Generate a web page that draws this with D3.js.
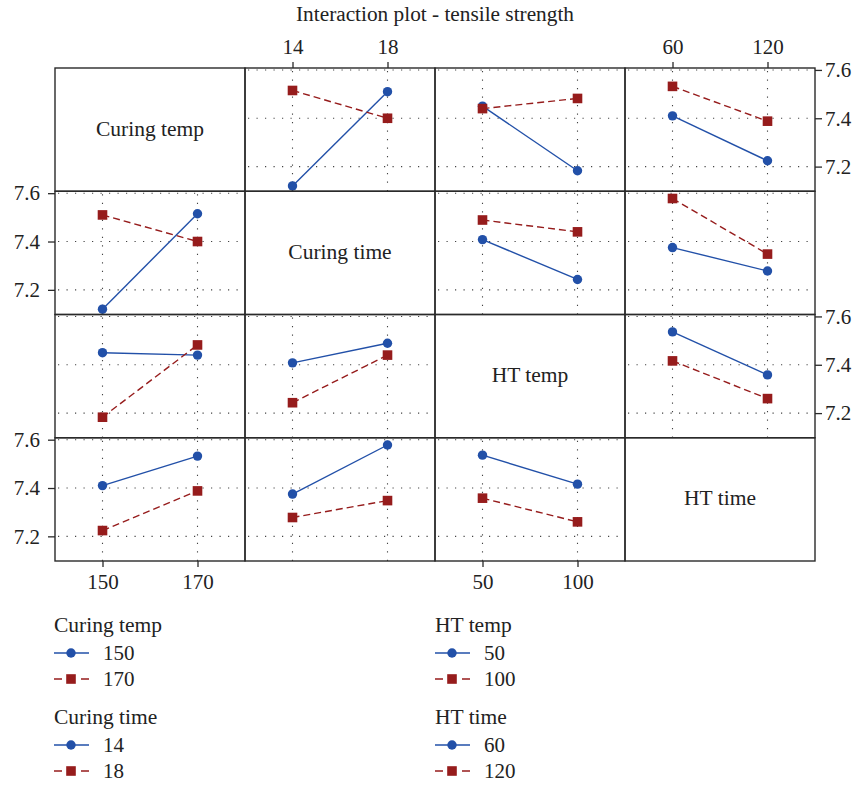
<!DOCTYPE html>
<html>
<head>
<meta charset="utf-8">
<script src="https://cdn.jsdelivr.net/npm/d3@7"></script>
<style>
  body { margin: 0; background: #fff; }
  svg text { font-family: "Liberation Serif", "DejaVu Serif", serif; fill: #222; }
</style>
</head>
<body>
<script>
// factors and their two levels
var factorNames = ["Curing temp", "Curing time", "HT temp", "HT time"];
var factorLevels = [[150, 170], [14, 18], [50, 100], [60, 120]];
var yTicks = [7.2, 7.4, 7.6];

// cell means, [level of first factor][level of second factor]
var meansTempTime = [[7.12, 7.51], [7.515, 7.40]];
var meansTempHtTemp = [[7.45, 7.183], [7.44, 7.482]];
var meansTempHtTime = [[7.41, 7.224], [7.532, 7.388]];
var meansTimeHtTemp = [[7.408, 7.243], [7.489, 7.44]];
var meansTimeHtTime = [[7.375, 7.278], [7.578, 7.348]];
var meansHtTempHtTime = [[7.536, 7.358], [7.416, 7.26]];

var pairTables = {
    "0-1": meansTempTime,
    "0-2": meansTempHtTemp,
    "0-3": meansTempHtTime,
    "1-2": meansTimeHtTemp,
    "1-3": meansTimeHtTime,
    "2-3": meansHtTempHtTime
};

var cellMean = function (r, i, c, j) {
    // trace factor r at level i, x factor c at level j
    if (r < c) return pairTables[r + "-" + c][i][j];
    return pairTables[c + "-" + r][j][i];
};

var blue = "#2250a8";
var red = "#961c1c";
var gridLeft = 55, gridTop = 68, cellW = 190, cellH = 123.25;
var serif = "'Liberation Serif', 'DejaVu Serif', serif";

var svg = d3.select("body").append("svg")
    .attr("width", 863)
    .attr("height", 786);

svg.append("rect").attr("width", 863).attr("height", 786).attr("fill", "#fff");

svg.append("text")
    .attr("x", gridLeft + 2 * cellW)
    .attr("y", 21)
    .attr("text-anchor", "middle")
    .style("font-size", "21.3px")
    .text("Interaction plot - tensile strength");

var y = d3.scaleLinear().domain([7.098, 7.608]).range([cellH, 0]);

factorNames.forEach(function (rowName, r) {
    factorNames.forEach(function (colName, c) {
        var g = svg.append("g")
            .attr("transform", "translate(" + (gridLeft + c * cellW) + "," + (gridTop + r * cellH) + ")");

        if (r === c) {
            g.append("text")
                .attr("x", cellW / 2)
                .attr("y", cellH / 2 + 6)
                .attr("text-anchor", "middle")
                .style("font-size", "21.5px")
                .text(rowName);
        } else {
            var x = d3.scalePoint().domain(factorLevels[c]).range([0, cellW]).padding(0.5);

            // dotted grid
            g.selectAll(".hgrid").data(yTicks).enter().append("line")
                .attr("x1", 3).attr("x2", cellW)
                .attr("y1", function (d) { return y(d); })
                .attr("y2", function (d) { return y(d); })
                .attr("stroke", "#444").attr("stroke-width", 1.1)
                .attr("stroke-dasharray", "1.2,7.3");
            g.selectAll(".vgrid").data(factorLevels[c]).enter().append("line")
                .attr("x1", function (d) { return x(d); })
                .attr("x2", function (d) { return x(d); })
                .attr("y1", 3).attr("y2", cellH)
                .attr("stroke", "#444").attr("stroke-width", 1.1)
                .attr("stroke-dasharray", "1.2,7.3");

            var line = d3.line()
                .x(function (d) { return x(d.lvl); })
                .y(function (d) { return y(d.val); });

            factorLevels[r].forEach(function (traceLvl, i) {
                var pts = factorLevels[c].map(function (lvl, j) {
                    return {lvl: lvl, val: cellMean(r, i, c, j)};
                });
                g.append("path")
                    .datum(pts)
                    .attr("d", line)
                    .attr("fill", "none")
                    .attr("stroke", i === 0 ? blue : red)
                    .attr("stroke-width", 1.4)
                    .attr("stroke-dasharray", i === 0 ? null : "7,4");
                if (i === 0) {
                    g.selectAll(".pt0").data(pts).enter().append("circle")
                        .attr("cx", function (d) { return x(d.lvl); })
                        .attr("cy", function (d) { return y(d.val); })
                        .attr("r", 4.7)
                        .attr("fill", blue);
                } else {
                    g.selectAll(".pt1").data(pts).enter().append("rect")
                        .attr("x", function (d) { return x(d.lvl) - 4.8; })
                        .attr("y", function (d) { return y(d.val) - 4.8; })
                        .attr("width", 9.6).attr("height", 9.6)
                        .attr("fill", red);
                }
            });
        }

        g.append("rect")
            .attr("width", cellW).attr("height", cellH)
            .attr("fill", "none")
            .attr("stroke", "#2a2a2a").attr("stroke-width", 1.4);
    });
});

// axes round the matrix
var styleAxis = function (sel) {
    sel.attr("font-family", serif);
    sel.select(".domain").remove();
    sel.selectAll("line").attr("stroke", "#2a2a2a").attr("stroke-width", 1.3);
    sel.selectAll("text").style("font-size", "21px").attr("fill", "#222");
};

factorLevels.forEach(function (levels, c) {
    var x = d3.scalePoint().domain(levels)
        .range([gridLeft + c * cellW, gridLeft + (c + 1) * cellW]).padding(0.5);
    if (c % 2 === 1) {
        svg.append("g").attr("transform", "translate(0," + gridTop + ")")
            .call(d3.axisTop(x).tickSize(6).tickPadding(8))
            .call(styleAxis);
    } else {
        svg.append("g").attr("transform", "translate(0," + (gridTop + 4 * cellH) + ")")
            .call(d3.axisBottom(x).tickSize(6).tickPadding(7))
            .call(styleAxis);
    }
});

factorLevels.forEach(function (levels, r) {
    var yr = d3.scaleLinear().domain(y.domain())
        .range([gridTop + (r + 1) * cellH, gridTop + r * cellH]);
    if (r % 2 === 1) {
        svg.append("g").attr("transform", "translate(" + gridLeft + ",0)")
            .call(d3.axisLeft(yr).tickValues(yTicks).tickFormat(d3.format(".1f")).tickSize(7).tickPadding(8))
            .call(styleAxis);
    } else {
        svg.append("g").attr("transform", "translate(" + (gridLeft + 4 * cellW) + ",0)")
            .call(d3.axisRight(yr).tickValues(yTicks).tickFormat(d3.format(".1f")).tickSize(7).tickPadding(3))
            .call(styleAxis);
    }
});

// legend
var legendX = [54, 435];
var legendY = [632, 724];
factorNames.forEach(function (name, k) {
    var lx = legendX[Math.floor(k / 2)];
    var ly = legendY[k % 2];
    var lg = svg.append("g").attr("transform", "translate(" + lx + "," + ly + ")");
    lg.append("text").attr("x", 0).attr("y", 0)
        .style("font-size", "21.5px").text(name);
    factorLevels[k].forEach(function (lvl, i) {
        var cy = 21 + i * 26;
        lg.append("line")
            .attr("x1", 0).attr("x2", 35)
            .attr("y1", cy).attr("y2", cy)
            .attr("stroke", i === 0 ? blue : red)
            .attr("stroke-width", 1.4)
            .attr("stroke-dasharray", i === 0 ? null : "8,19,8");
        if (i === 0) {
            lg.append("circle").attr("cx", 17).attr("cy", cy).attr("r", 4.7).attr("fill", blue);
        } else {
            lg.append("rect").attr("x", 12.2).attr("y", cy - 4.8)
                .attr("width", 9.6).attr("height", 9.6).attr("fill", red);
        }
        lg.append("text").attr("x", 49).attr("y", cy + 6.5)
            .style("font-size", "21px").text(lvl);
    });
});
</script>
</body>
</html>
